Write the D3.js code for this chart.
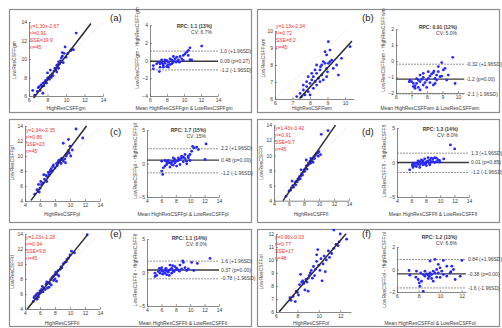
<!DOCTYPE html>
<html><head><meta charset="utf-8">
<script src="https://cdn.jsdelivr.net/npm/d3@7"></script>
<style>body{margin:0;background:#fff} svg{display:block} text{font-family:"Liberation Sans",Arial,Helvetica,sans-serif}</style>
</head><body>
<svg id="c" width="502" height="328"></svg>
<script>
// ================= DATA =================
const tags = ["(a)","(b)","(c)","(d)","(e)","(f)"];
const regions = ["gm","wm","pl","fl","tl","ol"];
const scatterXDomains = [[6,14],[6,10.5],[4,14],[4,14],[4,14],[6,13]];
const scatterYDomains = [[6,14],[6,10],[4,14],[4,14],[4,14],[6,12]];
const scatterXTicks = [[6,8,10,12,14],[6,7,8,9,10],[4,6,8,10,12,14],[4,6,8,10,12,14],[4,6,8,10,12,14],[6,8,10,12]];
const scatterYTicks = [[6,8,10,12,14],[6,7,8,9,10],[4,6,8,10,12,14],[4,6,8,10,12,14],[4,6,8,10,12,14],[6,7,8,9,10,11,12]];
const baXDomains = [[6,14],[6,10.4],[4,14],[4,14],[4,14],[6,12.4]];
const baXTicks = [[6,8,10,12,14],[6,7,8,9,10],[4,6,8,10,12,14],[4,6,8,10,12,14],[4,6,8,10,12,14],[6,8,10,12]];
const baYDomains = [[-4,4],[-2,2],[-5,5],[-5,5],[-5,5],[-2,2]];
const baYTicks = [[-4,-2,0,2,4],[-2,-1,0,1,2],[-5,0,5],[-5,0,5],[-5,0,5],[-2,0,2]];
// regression: slope, intercept, x-extent of drawn line
const fitSlope = [1.30,1.13,1.34,1.43,1.23,0.96];
const fitIntercept = [-2.67,-2.34,-2.35,-3.42,-1.28,-0.03];
const fitExtent = [[6.5,12.7],[7.4,10.4],[4.8,12.2],[5.2,12.2],[4.3,12.3],[6.3,12.55]];
const fitText = [
  ["y=1.30x-2.67","r²=0.91","SSE=19.9","n=45"],
  ["y=1.13x-2.34","r²=0.72","SSE=8.2","n=45"],
  ["y=1.34x-2.35","r²=0.86","SSE=23","n=45"],
  ["y=1.43x-3.42","r²=0.91","SSE=9.7","n=45"],
  ["y=1.23x-1.28","r²=0.94","SSE=9.8","n=45"],
  ["y=0.96x-0.03","r²=0.77","SSE=17","n=48"]];
// Bland-Altman: upper limit, mean, lower limit, and their labels
const baLines = [[1.06,-0.08,-1.06],[-0.2,-1.13,-2.06],[2.2,0.5,-1.4],[1.35,0.0,-1.45],[1.7,0.38,-0.94],[0.89,-0.39,-1.64]];
const baLabels = [
  ["1.0 (+1.96SD)","0.09 (p=0.27)","-1.2 (-1.96SD)"],
  ["-0.32 (+1.96SD)","-1.2 (p=0.00)","-2.1 (-1.96SD)"],
  ["2.2 (+1.96SD)","0.48 (p=0.00)","-1.2 (-1.96SD)"],
  ["1.3 (+1.96SD)","0.01 (p=0.85)","-1.2 (-1.96SD)"],
  ["1.6 (+1.96SD)","0.37 (p=0.00)","-0.78 (-1.96SD)"],
  ["0.84 (+1.96SD)","-0.38 (p=0.00)","-1.6 (-1.96SD)"]];
const rpcText = [["RPC: 1.1 (13%)","CV: 6.7%"],["RPC: 0.91 (12%)","CV: 5.0%"],["RPC: 1.7 (15%)","CV: 15%"],
  ["RPC: 1.3 (14%)","CV: 8.0%"],["RPC: 1.1 (14%)","CV: 8.0%"],["RPC: 1.2 (13%)","CV: 6.6%"]];

const scatterA = [[6.4,6.6],[6.6,6.1],[6.9,6.5],[7.0,6.9],[7.1,7.0],[7.2,6.6],[7.3,7.2],[7.5,7.4],[7.6,7.1],[7.7,7.5],[7.8,7.7],[7.5,6.3],[7.9,7.4],[8.0,7.9],[8.1,8.0],[8.2,7.8],[8.3,8.2],[8.3,8.8],[8.5,8.4],[8.6,8.2],[8.7,8.7],[8.8,9.0],[8.9,8.8],[9.0,9.3],[9.0,8.6],[9.1,9.4],[9.2,9.0],[9.3,9.5],[9.4,9.8],[9.5,10.1],[9.6,10.3],[9.6,10.7],[9.8,10.6],[9.9,11.3],[9.7,9.6],[10.0,10.2],[10.2,10.6],[10.6,11.0],[10.8,11.0],[10.5,10.9],[11.1,12.8],[8.4,8.0],[7.4,7.0],[9.2,9.7],[8.0,8.5]];
const scatterB = [[9.05,9.37],[8.86,8.78],[9.14,8.88],[8.95,8.59],[9.24,8.29],[9.8,8.39],[10.29,9.08],[8.57,7.71],[8.38,7.51],[8.67,7.41],[8.19,7.31],[8.48,7.22],[8.1,7.12],[8.29,7.02],[8.0,6.92],[8.38,6.82],[7.81,6.73],[8.19,6.63],[7.62,6.53],[7.9,6.43],[7.43,6.33],[7.71,6.24],[7.24,6.14],[7.52,6.14],[8.0,6.24],[8.76,8.2],[8.86,8.1],[9.05,8.1],[8.67,8.0],[8.95,7.8],[9.14,8.2],[8.1,7.51],[8.29,7.71],[7.9,7.31],[7.81,7.02],[8.57,7.02],[8.76,7.12],[8.95,7.31],[9.33,7.8],[9.52,8.0],[9.62,7.41],[7.62,6.82],[8.38,8.0],[8.6,7.9],[9.0,7.6]];
const scatterC = [[5.3,4.9],[5.6,5.5],[5.9,5.2],[6.0,5.7],[6.2,6.2],[6.1,6.6],[6.4,6.4],[6.6,6.9],[6.5,7.5],[6.8,7.4],[7.0,7.2],[7.1,7.8],[7.3,7.9],[7.4,8.1],[7.5,8.3],[7.6,8.0],[7.7,8.6],[7.8,8.8],[8.0,8.4],[8.2,9.0],[8.4,9.2],[8.5,9.4],[8.6,9.3],[8.7,9.5],[8.8,9.0],[8.9,9.7],[9.0,9.5],[9.1,9.3],[9.3,9.6],[9.5,10.0],[9.6,10.3],[9.8,10.7],[9.9,10.4],[10.0,11.3],[9.1,11.7],[9.8,12.2],[10.1,10.0],[10.3,10.8],[10.8,13.6],[11.7,12.4],[8.3,8.7],[7.2,7.5],[6.9,6.6],[5.8,6.2],[9.4,9.1]];
const scatterD = [[5.6,4.6],[6.0,5.3],[6.2,5.4],[6.3,5.7],[6.5,6.0],[6.6,5.8],[6.8,6.4],[6.9,6.1],[7.0,6.6],[7.1,6.5],[7.2,6.9],[7.3,6.8],[7.4,7.2],[7.5,6.9],[7.6,7.3],[7.7,7.6],[7.8,7.4],[7.9,7.8],[8.0,8.1],[8.1,7.9],[8.2,8.3],[8.3,8.6],[8.4,8.2],[8.5,8.7],[8.6,9.0],[8.7,8.9],[8.8,9.2],[8.9,9.0],[9.0,9.3],[9.1,9.5],[9.2,9.1],[9.3,9.8],[9.4,9.6],[9.5,10.0],[9.6,10.2],[9.8,10.3],[9.9,9.9],[10.0,10.5],[10.2,10.1],[8.3,9.4],[7.6,8.1],[10.3,12.8],[11.2,13.3],[8.9,9.6],[6.4,6.6]];
const scatterE = [[5.1,5.0],[5.2,5.5],[5.3,5.7],[5.5,5.9],[5.6,5.3],[5.7,6.1],[5.8,5.6],[5.9,6.0],[6.0,6.4],[6.1,6.2],[6.2,6.6],[6.4,6.3],[6.5,6.8],[6.7,6.6],[6.8,7.3],[6.9,7.6],[7.0,6.8],[7.1,7.5],[7.3,7.4],[7.4,7.9],[7.5,7.2],[7.6,8.2],[7.8,8.4],[7.8,7.8],[8.0,8.6],[8.0,8.0],[8.1,8.9],[8.3,8.6],[8.4,9.1],[8.5,8.4],[8.7,9.3],[8.8,9.6],[8.9,9.5],[9.1,10.0],[9.3,10.2],[9.5,10.3],[9.6,10.6],[9.8,10.8],[10.0,11.2],[10.2,11.7],[10.6,11.5],[7.2,6.9],[6.3,7.0],[8.2,7.7],[12.3,13.9]];
const scatterF = [[7.4,6.9],[7.6,7.2],[7.3,7.1],[7.8,6.8],[7.9,7.6],[8.0,7.5],[8.2,8.1],[8.4,8.3],[8.5,8.4],[8.6,8.2],[8.7,7.7],[8.8,8.5],[8.9,8.3],[9.0,8.6],[9.1,8.8],[9.2,9.0],[9.3,9.2],[9.0,7.6],[9.4,8.6],[9.5,9.5],[9.6,8.8],[9.7,9.3],[9.8,9.9],[9.8,10.4],[10.0,9.6],[10.1,9.2],[10.2,10.1],[10.3,8.4],[10.4,9.7],[10.5,10.3],[10.7,10.0],[10.9,10.7],[11.0,10.2],[11.2,10.5],[11.4,10.9],[11.6,11.2],[11.8,11.1],[11.9,11.4],[12.0,12.0],[11.4,12.3],[12.6,11.6],[8.3,8.9],[9.9,10.8],[10.6,9.1],[8.1,7.3]];

const baA = [[6.39,-0.94],[7.1,-1.25],[7.18,-0.38],[7.37,-0.19],[7.57,-0.57],[7.76,-0.3],[7.96,0],[8.16,-0.19],[8.35,-0.45],[8.55,0.08],[8.75,-0.08],[8.94,0.19],[9.14,0.38],[9.33,0.08],[9.53,0.45],[9.73,0.19],[9.92,0.57],[10.12,0.75],[10.31,0.94],[10.5,1.13],[10.7,1.43],[12.08,1.62],[10.9,0.08],[7.96,-0.68],[7.57,-0.75],[6.98,-0.19],[7.37,0.08],[8.35,0.19],[8.75,0.45],[9.92,0],[9.45,-0.19],[6.78,-0.38],[8.16,-0.75],[7.76,0.08],[8.55,-0.38],[7.18,-0.75],[9.06,-0.19],[10.5,0.57],[10.7,0.08],[6.39,-0.57],[7.5,-0.38],[8.08,-0.49],[8.67,-0.26],[9.25,-0.08]];
const baB = [[6.9,-1.19],[7.01,-1.29],[7.12,-1.4],[7.23,-1.56],[7.33,-1.4],[7.44,-1.65],[7.55,-1.29],[7.66,-1.15],[7.76,-1.02],[7.87,-1.35],[7.98,-1.19],[8.08,-1.08],[8.19,-0.94],[8.3,-0.81],[8.41,-0.73],[8.52,-1.08],[8.62,-0.88],[8.73,-0.67],[8.84,-0.98],[8.95,-0.94],[7.33,-1.1],[7.55,-0.88],[7.12,-1.6],[7.23,-1.71],[7.76,-1.5],[7.98,-1.65],[8.19,-1.35],[8.52,-1.4],[9.05,-0.56],[9.16,-0.46],[9.27,-1.19],[9.81,-1.4],[9.37,-0.88],[7.76,-0.77],[8.08,-0.67],[8.62,-1.19],[7.55,-1.81],[7.44,-1.19],[6.86,-1.29],[8.41,-1.5],[9.66,0.23],[8.95,-0.1],[8.73,-0.35],[8.45,-0.63]];
const baC = [[6.18,-1.63],[6.04,-1.13],[6.27,-0.64],[6.5,-0.39],[6.73,-0.15],[6.96,0.1],[7.19,0.1],[7.43,0.25],[7.66,0.35],[7.89,0.1],[8.12,0.35],[8.35,0.45],[8.58,0.6],[8.81,0.84],[9.05,0.94],[9.28,0.74],[9.51,0.35],[9.74,1.09],[9.97,1.34],[10.2,1.83],[10.34,2.57],[10.53,2.33],[10.9,2.43],[11.13,2.08],[12.2,2.92],[12.06,0.6],[8.58,-0.15],[8.12,-0.39],[7.66,-0.24],[7.19,-0.54],[6.73,0.25],[6.5,0.45],[6.04,0.35],[6.96,0.45],[9.05,0.25],[9.51,-0.05],[9.97,0.45],[7.66,0.84],[8.35,0.84],[8.81,1.09],[9.28,1.34],[9.74,0.84],[7.89,0.6],[7.43,-0.15]];
const baD = [[5.76,-1.06],[6.14,-0.44],[6.22,-0.72],[6.46,-0.44],[6.69,-0.58],[6.92,-0.24],[7.15,-0.34],[7.39,-0.1],[7.61,0.04],[7.85,-0.24],[8.08,0.14],[8.31,0.24],[8.54,0.38],[8.78,0.62],[9.0,0.53],[9.24,0.72],[9.47,0.62],[9.7,0.38],[9.93,0.04],[6.69,-0.1],[7.15,0.14],[7.61,-0.34],[8.08,-0.44],[8.54,-0.1],[8.78,0.14],[9.0,0.14],[9.47,0.14],[6.14,-0.34],[6.46,-0.1],[6.92,0.24],[7.39,0.38],[7.85,0.53],[8.31,0.72],[8.54,-0.34],[9.24,0.0],[7.61,0.24],[7.15,-0.72],[6.22,-0.1],[10.49,0.52],[11.42,2.55],[12.01,1.97],[8.0,-0.1],[9.9,0.3]];
const baE = [[5.11,-0.1],[5.35,-0.44],[5.11,-0.59],[5.57,0.14],[5.71,0.63],[5.81,-0.1],[6.04,0.24],[6.27,0.14],[6.5,-0.1],[6.73,-0.34],[6.96,0.05],[7.19,0.38],[7.43,0.63],[7.66,0.24],[7.89,0.87],[8.13,0.63],[8.35,0.38],[8.58,1.11],[8.82,0.53],[9.28,0.72],[9.74,0.53],[6.73,0.24],[6.18,-0.25],[7.1,-0.44],[7.43,-0.1],[7.75,0.14],[7.19,1.11],[7.57,1.01],[6.64,0.63],[6.04,0.72],[8.96,1.74],[9.05,1.5],[10.2,1.5],[10.99,1.36],[12.75,2.1],[5.81,0.38],[6.5,0.38],[7.0,0.3],[8.0,0.4],[8.5,0.2],[9.5,0.3],[10.5,0.3]];
const baF = [[7.12,-0.09],[7.19,-0.5],[7.81,-0.15],[7.75,-0.68],[7.96,-0.89],[8.06,-1.19],[8.12,-1.49],[8.43,-1.94],[8.28,-1.04],[8.43,-0.45],[8.59,-0.59],[8.75,-0.39],[8.9,-0.5],[9.06,-0.3],[9.21,-0.45],[9.36,-0.15],[9.52,-0.3],[9.68,0.0],[9.83,-0.3],[9.99,0.15],[10.15,-0.15],[10.3,-0.45],[10.62,-0.59],[10.93,-0.3],[11.08,0.3],[11.24,0.0],[11.39,-0.89],[11.86,-0.59],[9.06,0.75],[9.52,0.9],[10.3,0.81],[12.02,0.81],[9.83,0.45],[9.21,-0.8],[8.59,-0.15],[8.9,-0.8],[9.68,-0.68],[10.62,0.3],[9.36,-1.04],[8.2,-0.3],[9.0,-0.6],[10.0,-0.7],[11.0,-0.2]];
const scatterData = [scatterA,scatterB,scatterC,scatterD,scatterE,scatterF];
const baData = [baA,baB,baC,baD,baE,baF];

// ================= LAYOUT (pixels) =================
const layout = [
 {frame:[9,9,242,103], sX:[29,103], sY:[96,22], txt:[30,26], tag:[110,21], sYl:[16,60], sXl:[66,110],
  bX:[150,218], bY:[96,25], bYl:[139,48], bXl:[184,110], rpc:[212,28]},
 {frame:[257,9,242,103], sX:[275,353.75], sY:[99,31], txt:[276,26], tag:[362,21], sYl:[265,58], sXl:[312,110],
  bX:[396,464.2], bY:[93,29], bYl:[385,50], bXl:[430,110], rpc:[457,29]},
 {frame:[9,119,242,103], sX:[25,100], sY:[201,126], txt:[26,130], tag:[110,135], sYl:[14,163], sXl:[62,216],
  bX:[147,219], bY:[197,130], bYl:[137,161], bXl:[183,216], rpc:[206,132]},
 {frame:[257,119,242,103], sX:[274,349], sY:[200.7,125.3], txt:[275,128], tag:[362,135], sYl:[263,163], sXl:[311,216],
  bX:[397,469], bY:[197,128], bYl:[386,161], bXl:[433,216], rpc:[458,131]},
 {frame:[9,229,242,97], sX:[25,100], sY:[309,234], txt:[26,237], tag:[110,237], sYl:[14,272], sXl:[62,324.5],
  bX:[147,219], bY:[306,239], bYl:[137,270], bXl:[183,324.5], rpc:[207,240]},
 {frame:[257,229,242,97], sX:[276,350.9], sY:[312,234], txt:[275,237], tag:[362,237], sYl:[263,272], sXl:[311,324.5],
  bX:[397,466], bY:[292,247], bYl:[386,270], bXl:[430,324.5], rpc:[457,239]}
];

// ================= DRAW =================
const svg = d3.select("#c");
const TXT = "#3a3a3a", AX = "#555";
const FS = 5;
const tf = d3.format("~g");
const DOT = "#2626ff";

function styleAxis(sel){
  sel.selectAll("path").attr("stroke",AX).attr("stroke-width",0.7);
  sel.selectAll("line").attr("stroke",AX).attr("stroke-width",0.6);
  sel.selectAll("text").attr("fill",TXT).attr("font-size",FS).attr("font-family",'"Liberation Sans",Arial,sans-serif');
}

layout.forEach((L,i)=>{
  const g = svg.append("g");
  const reg = regions[i];
  g.append("rect").attr("x",L.frame[0]+0.5).attr("y",L.frame[1]+0.5)
    .attr("width",L.frame[2]).attr("height",L.frame[3])
    .attr("fill","#fff").attr("stroke","#8c8c8c").attr("stroke-width",1.2);

  // ---- scatter ----
  const sx = d3.scaleLinear().domain(scatterXDomains[i]).range(L.sX);
  const sy = d3.scaleLinear().domain(scatterYDomains[i]).range(L.sY);
  const dx = scatterXDomains[i], dy = scatterYDomains[i];
  const idLo = Math.max(dx[0],dy[0]), idHi = Math.min(dx[1],dy[1]);
  g.append("line").attr("x1",sx(idLo)).attr("y1",sy(idLo)).attr("x2",sx(idHi)).attr("y2",sy(idHi))
    .attr("stroke","#d4d4d4").attr("stroke-width",0.7).attr("stroke-dasharray","1,1");
  g.append("g").attr("transform",`translate(0,${L.sY[0]})`)
    .call(d3.axisBottom(sx).tickValues(scatterXTicks[i]).tickFormat(tf).tickSizeInner(-2).tickSizeOuter(0).tickPadding(2))
    .call(styleAxis);
  g.append("g").attr("transform",`translate(${L.sX[0]},0)`)
    .call(d3.axisLeft(sy).tickValues(scatterYTicks[i]).tickFormat(tf).tickSizeInner(-2).tickSizeOuter(0).tickPadding(2))
    .call(styleAxis);
  g.append("g").selectAll("circle").data(scatterData[i]).join("circle")
    .attr("cx",d=>sx(d[0])).attr("cy",d=>sy(d[1])).attr("r",1.4).attr("fill",DOT);
  const fe = fitExtent[i];
  g.append("line").attr("x1",sx(fe[0])).attr("y1",sy(fitSlope[i]*fe[0]+fitIntercept[i]))
    .attr("x2",sx(fe[1])).attr("y2",sy(fitSlope[i]*fe[1]+fitIntercept[i]))
    .attr("stroke","#2b2b2b").attr("stroke-width",1.5);
  fitText[i].forEach((t,k)=>{
    g.append("text").attr("x",L.txt[0]).attr("y",L.txt[1]+k*7+2).text(t)
      .attr("font-size",5).attr("fill","#ee3333");
  });
  g.append("text").attr("x",L.tag[0]).attr("y",L.tag[1]).text(tags[i]).attr("font-size",9.5).attr("fill","#222");
  g.append("text").attr("transform",`translate(${L.sYl[0]},${L.sYl[1]}) rotate(-90)`).attr("text-anchor","middle")
    .text("LowResCSFF"+reg).attr("font-size",FS).attr("fill",TXT);
  g.append("text").attr("x",L.sXl[0]).attr("y",L.sXl[1]).attr("text-anchor","middle")
    .text("HighResCSFF"+reg).attr("font-size",FS).attr("fill",TXT);

  // ---- Bland-Altman ----
  const bx = d3.scaleLinear().domain(baXDomains[i]).range(L.bX);
  const by = d3.scaleLinear().domain(baYDomains[i]).range(L.bY);
  g.append("g").attr("transform",`translate(0,${L.bY[0]})`)
    .call(d3.axisBottom(bx).tickValues(baXTicks[i]).tickFormat(tf).tickSizeInner(-2).tickSizeOuter(0).tickPadding(2))
    .call(styleAxis);
  g.append("g").attr("transform",`translate(${L.bX[0]},0)`)
    .call(d3.axisLeft(by).tickValues(baYTicks[i]).tickFormat(tf).tickSizeInner(-2).tickSizeOuter(0).tickPadding(2))
    .call(styleAxis);
  baLines[i].forEach((v,k)=>{
    g.append("line").attr("x1",L.bX[0]).attr("x2",L.bX[1]).attr("y1",by(v)).attr("y2",by(v))
      .attr("stroke",k===1?"#3a3a3a":"#777").attr("stroke-width",k===1?1.4:0.8)
      .attr("stroke-dasharray",k===1?null:"2,1");
    g.append("text").attr("x",L.bX[1]+2).attr("y",by(v)+1.7).text(baLabels[i][k])
      .attr("font-size",FS).attr("fill",TXT);
  });
  g.append("g").selectAll("circle").data(baData[i]).join("circle")
    .attr("cx",d=>bx(d[0])).attr("cy",d=>by(d[1])).attr("r",1.4).attr("fill",DOT);
  rpcText[i].forEach((t,k)=>{
    g.append("text").attr("x",L.rpc[0]).attr("y",L.rpc[1]+k*5.5).attr("text-anchor","end").text(t)
      .attr("font-size",FS).attr("fill",TXT).attr("font-weight",k===0?"bold":null);
  });
  g.append("text").attr("transform",`translate(${L.bYl[0]},${L.bYl[1]}) rotate(-90)`).attr("text-anchor","middle")
    .text("LowResCSFF"+reg+" - HighResCSFF"+reg).attr("font-size",FS).attr("fill",TXT);
  g.append("text").attr("x",L.bXl[0]).attr("y",L.bXl[1]).attr("text-anchor","middle")
    .text("Mean HighResCSFF"+reg+" & LowResCSFF"+reg).attr("font-size",FS).attr("fill",TXT);
});
</script>
</body></html>
